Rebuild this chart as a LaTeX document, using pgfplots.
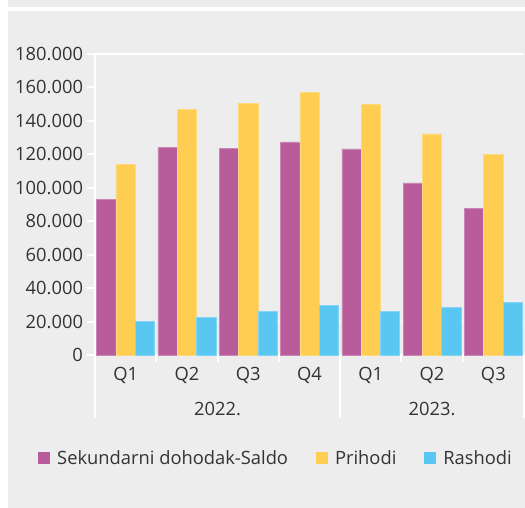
\documentclass[border=0pt]{standalone}
\usepackage{fontspec}
\setmainfont{Open Sans}
\usepackage{pgfplots}
\pgfplotsset{compat=1.18}
\definecolor{bg}{HTML}{EDEDED}
\definecolor{cSaldo}{HTML}{B95C9C}
\definecolor{cPri}{HTML}{FECD52}
\definecolor{cRas}{HTML}{5AC6F2}
\definecolor{txt}{HTML}{333333}
\newcommand{\lblfont}{\fontsize{18.4}{21}\selectfont}
\begin{document}
\begin{tikzpicture}[x=1bp,y=1bp]
\useasboundingbox (0,0) rectangle (525,508);
\fill[white] (0,0) rectangle (525,508);
\fill[bg] (8,501) rectangle (525,508);
\fill[bg] (8,0) rectangle (525,497);
\begin{axis}[
  at={(95bp,153bp)}, anchor=south west,
  width=429bp, height=301bp, scale only axis,
  xmin=-0.5, xmax=6.5, ymin=0, ymax=180000,
  ybar=0pt, bar width=19.3bp,
  clip=false,
  axis x line*=bottom, axis y line*=left,
  axis line style={white, line width=2bp, -},
  ytick={0,20000,...,180000},
  scaled y ticks=false,
  /pgf/number format/.cd, fixed, 1000 sep={.}, assume math mode=true, /pgfplots/.cd,
  tick align=outside, major tick length=8bp,
  ytick style={white, line width=2bp},
  xtick={0,...,6}, xticklabels={Q1,Q2,Q3,Q4,Q1,Q2,Q3},
  xtick style={draw=none},
  tick label style={font=\lblfont, text=txt},
  yticklabel style={xshift=-0.5bp},
  xticklabel style={yshift=-1bp},
  legend style={at={(0.422,-0.342)}, anchor=center, draw=none, fill=none,
    font=\lblfont, text=txt, legend columns=3,
    /tikz/every odd column/.append style={column sep=5bp},
    /tikz/every even column/.append style={column sep=26bp}},
  legend image code/.code={\fill[#1, draw=none] (0bp,-6bp) rectangle (12bp,6bp);},
]
\draw[white, line width=1.5bp] (axis cs:-0.5,20000) -- (axis cs:6.5,20000);
\draw[white, line width=2bp] (axis cs:-0.5,180000) -- (axis cs:6.5,180000);
\addplot[fill=cSaldo, draw=cSaldo!75!white, line width=0.5bp] coordinates
 {(0,93100) (1,124200) (2,123600) (3,127400) (4,123200) (5,102900) (6,87900)};
\addplot[fill=cPri, draw=cPri!75!white, line width=0.5bp] coordinates
 {(0,114200) (1,147100) (2,150300) (3,157100) (4,150000) (5,132200) (6,120000)};
\addplot[fill=cRas, draw=cRas!75!white, line width=0.5bp] coordinates
 {(0,20300) (1,22500) (2,26100) (3,29500) (4,25900) (5,28700) (6,31500)};
\legend{Sekundarni dohodak-Saldo, Prihodi, Rashodi}
\pgfplotsinvokeforeach{0.5,1.5,2.5,4.5,5.5}{
  \draw[white, line width=2bp] (axis cs:#1,0) -- ++(0bp,-7bp);
}
\pgfplotsinvokeforeach{-0.5,3.5,6.5}{
  \draw[white, line width=2bp] (axis cs:#1,0) -- ++(0bp,-63bp);
}
\node[font=\lblfont, text=txt] at ([yshift=-54bp]axis cs:1.5,0) {2022.};
\node[font=\lblfont, text=txt] at ([yshift=-54bp]axis cs:5,0) {2023.};
\end{axis}
\end{tikzpicture}
\end{document}
